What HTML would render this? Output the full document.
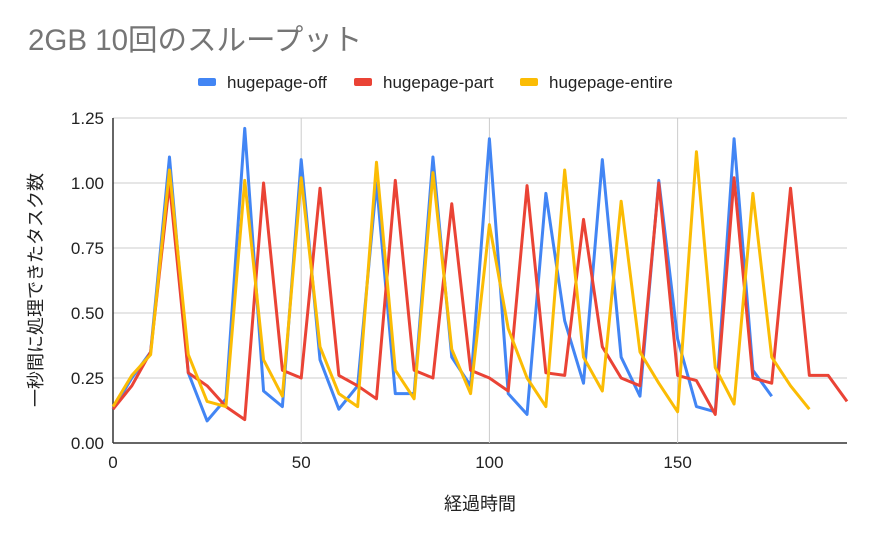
<!DOCTYPE html>
<html><head><meta charset="utf-8"><style>
body{margin:0;background:#fff;font-family:"Liberation Sans","Noto Sans CJK JP",sans-serif}
</style></head><body>
<svg width="874" height="540" id="c" font-family="Liberation Sans, Noto Sans CJK JP, sans-serif">
<rect width="874" height="540" fill="#fff"/>
<text x="28" y="50" font-size="29.5" fill="#757575">2GB 10回のスループット</text>
<g font-size="17" fill="#222">
<rect x="198" y="78" width="18" height="8" rx="2" fill="#4285f4"/><text x="227" y="88">hugepage-off</text>
<rect x="354" y="78" width="18" height="8" rx="2" fill="#ea4335"/><text x="383" y="88">hugepage-part</text>
<rect x="520" y="78" width="18" height="8" rx="2" fill="#fbbc04"/><text x="549" y="88">hugepage-entire</text>
</g>
<g id="grid"></g><g id="series"></g><g id="ticks" font-size="17" fill="#222"></g>
<text x="480" y="510" font-size="18" fill="#222" text-anchor="middle">経過時間</text>
<text transform="translate(42,290) rotate(-90)" font-size="18" fill="#222" text-anchor="middle">一秒間に処理できたタスク数</text>
</svg>
<script>
const xTicks=[0,50,100,150];
const yTicks=[0,0.25,0.5,0.75,1.0,1.25];
const yTickLabels=["0.00","0.25","0.50","0.75","1.00","1.25"];
const offVals=[0.13,0.25,0.35,1.10,0.27,0.085,0.17,1.21,0.20,0.14,1.09,0.32,0.13,0.22,1.0,0.19,0.19,1.10,0.33,0.22,1.17,0.19,0.11,0.96,0.47,0.23,1.09,0.33,0.18,1.01,0.40,0.14,0.12,1.17,0.28,0.18];
const partVals=[0.13,0.22,0.35,1.0,0.27,0.22,0.14,0.09,1.0,0.28,0.25,0.98,0.26,0.22,0.17,1.01,0.28,0.25,0.92,0.28,0.25,0.20,0.99,0.27,0.26,0.86,0.37,0.25,0.22,1.0,0.26,0.24,0.11,1.02,0.25,0.23,0.98,0.26,0.26,0.16];
const entireVals=[0.14,0.26,0.34,1.05,0.34,0.16,0.14,1.01,0.32,0.18,1.02,0.37,0.19,0.14,1.08,0.28,0.17,1.04,0.36,0.19,0.84,0.44,0.25,0.14,1.05,0.33,0.20,0.93,0.35,0.23,0.12,1.12,0.29,0.15,0.96,0.33,0.22,0.13];
const step=5;
const NS="http://www.w3.org/2000/svg";
const X0=113,X1=847,Y0=443,Y1=118,XMAX=195,YMAX=1.25;
const sx=v=>X0+(X1-X0)*v/XMAX, sy=v=>Y0-(Y0-Y1)*v/YMAX;
const grid=document.getElementById('grid'),ticks=document.getElementById('ticks'),ser=document.getElementById('series');
function mk(t,a,p){const e=document.createElementNS(NS,t);for(const k in a)e.setAttribute(k,a[k]);p.appendChild(e);return e;}
yTicks.forEach((v,i)=>{
 const l=mk('line',{x1:X0,x2:X1,y1:sy(v),y2:sy(v),stroke:i==0?'#333':'#ccc','stroke-width':i==0?1.5:1},grid);
 
 
 const t=mk('text',{x:104,y:sy(v)+6,'text-anchor':'end'},ticks);t.textContent=yTickLabels[i];
 
 
});
xTicks.forEach(v=>{
 if(v>0){const l=mk('line',{x1:sx(v),x2:sx(v),y1:Y1,y2:Y0,stroke:'#ccc'},grid);
 
 }
 const t=mk('text',{x:sx(v),y:468,'text-anchor':'middle'},ticks);t.textContent=v;
 
 
});
const al=mk('line',{x1:X0,x2:X0,y1:Y1,y2:Y0,stroke:'#333','stroke-width':1.5},grid);


[[offVals,'#4285f4','series-hugepage-off'],[partVals,'#ea4335','series-hugepage-part'],[entireVals,'#fbbc04','series-hugepage-entire']].forEach(([vals,c,n])=>{
 const p=mk('polyline',{points:vals.map((v,i)=>sx(i*step)+','+sy(v)).join(' '),fill:'none',stroke:c,'stroke-width':3,'stroke-linejoin':'round'},ser);
 
 
});
</script>
</body></html>
